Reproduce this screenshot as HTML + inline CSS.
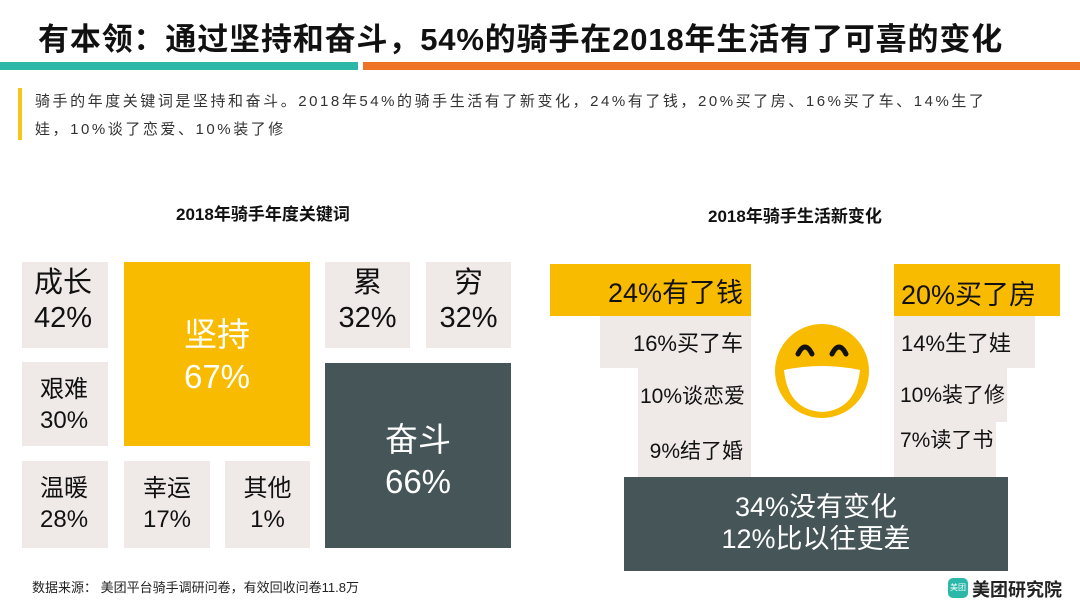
<!DOCTYPE html>
<html><head><meta charset="utf-8"><style>
body{margin:0;width:1080px;height:608px;background:#fff;position:relative;overflow:hidden;font-family:"Liberation Sans","Noto Sans CJK SC",sans-serif;color:#111}
.a{position:absolute}
.b{position:absolute;box-sizing:border-box}
.g{background:#efe9e8}
.k{font-size:29px;line-height:35px;padding:4px 0 0 12px}
.r{font-size:22px;text-align:right;padding-right:8px;display:flex;align-items:center;justify-content:flex-end}
</style></head><body>
<div class="a" style="left:38px;top:14px;font-size:31px;font-weight:bold;letter-spacing:0.85px;white-space:nowrap">有本领：通过坚持和奋斗，54%的骑手在2018年生活有了可喜的变化</div>
<div class="a" style="left:0;top:62px;width:358px;height:8px;background:#2bb8a8"></div>
<div class="a" style="left:363px;top:62px;width:717px;height:8px;background:#ee7326"></div>
<div class="a" style="left:18px;top:88px;width:4px;height:52px;background:#f5c518"></div>
<div class="a" style="left:35px;top:88px;font-size:15px;line-height:28px;color:#333;letter-spacing:2.55px;width:1045px;white-space:nowrap">骑手的年度关键词是坚持和奋斗。2018年54%的骑手生活有了新变化，24%有了钱，20%买了房、16%买了车、14%生了<br>娃，10%谈了恋爱、10%装了修</div>
<div class="a" style="left:176px;top:200px;font-size:17px;font-weight:bold">2018年骑手年度关键词</div>
<div class="a" style="left:708px;top:202px;font-size:17px;font-weight:bold">2018年骑手生活新变化</div>

<div class="b g k" style="left:22px;top:262px;width:86px;height:86px">成长<br>42%</div>
<div class="b" style="left:124px;top:262px;width:186px;height:184px;background:#f8bb00;color:#fff;font-size:33px;line-height:42px;text-align:center;padding-top:52px">坚持<br>67%</div>
<div class="b g" style="left:325px;top:262px;width:85px;height:86px;font-size:29px;line-height:35px;text-align:center;padding-top:4px">累<br>32%</div>
<div class="b g" style="left:426px;top:262px;width:85px;height:86px;font-size:29px;line-height:35px;text-align:center;padding-top:4px">穷<br>32%</div>
<div class="b g" style="left:22px;top:362px;width:86px;height:84px;font-size:24px;line-height:31px;padding:12px 0 0 18px">艰难<br>30%</div>
<div class="b" style="left:325px;top:363px;width:186px;height:185px;background:#465557;color:#fff;font-size:33px;line-height:42px;text-align:center;padding-top:56px">奋斗<br>66%</div>
<div class="b g" style="left:22px;top:461px;width:86px;height:87px;font-size:24px;line-height:31px;padding:12px 0 0 18px">温暖<br>28%</div>
<div class="b g" style="left:124px;top:461px;width:86px;height:87px;font-size:24px;line-height:31px;text-align:center;padding-top:12px">幸运<br>17%</div>
<div class="b g" style="left:225px;top:461px;width:85px;height:87px;font-size:24px;line-height:31px;text-align:center;padding-top:12px">其他<br>1%</div>

<div class="b r" style="left:550px;top:264px;width:201px;height:52px;background:#f8bb00;font-size:27px">24%有了钱</div>
<div class="b g r" style="left:600px;top:316px;width:151px;height:52px">16%买了车</div>
<div class="b g r" style="left:638px;top:368px;width:113px;height:54px;font-size:21px;padding-right:6px">10%谈恋爱</div>
<div class="b g r" style="left:638px;top:422px;width:113px;height:55px;font-size:21px">9%结了婚</div>
<div class="b" style="left:894px;top:264px;width:166px;height:52px;background:#f8bb00;font-size:27px;padding:9px 0 0 7px">20%买了房</div>
<div class="b g" style="left:894px;top:316px;width:141px;height:52px;font-size:22px;padding:10px 0 0 7px">14%生了娃</div>
<div class="b g" style="left:894px;top:368px;width:113px;height:54px;font-size:21px;padding:11px 0 0 6px">10%装了修</div>
<div class="b g" style="left:894px;top:422px;width:102px;height:55px;font-size:21px;padding:2px 0 0 6px">7%读了书</div>
<div class="b" style="left:624px;top:477px;width:384px;height:94px;background:#465557;color:#fff;font-size:27px;line-height:32px;text-align:center;padding-top:14px">34%没有变化<br>12%比以往更差</div>

<svg class="a" style="left:770px;top:320px" width="104" height="104" viewBox="0 0 104 104">
<circle cx="52" cy="51" r="47" fill="#f8bb00"/>
<path d="M14 50 Q52 42 90 50 Q86 90 52 92 Q18 90 14 50Z" fill="#fff"/>
<path d="M28 34 Q35 20 42 34" stroke="#111" stroke-width="5" fill="none" stroke-linecap="round"/>
<path d="M62 34 Q69 20 76 34" stroke="#111" stroke-width="5" fill="none" stroke-linecap="round"/>
</svg>

<div class="a" style="left:32px;top:577px;font-size:13px;color:#222">数据来源： 美团平台骑手调研问卷，有效回收问卷11.8万</div>
<div class="a" style="left:948px;top:578px;width:20px;height:20px;border-radius:5px;background:#2bb8a8;color:#fff;font-size:8px;line-height:20px;text-align:center">美团</div>
<div class="a" style="left:972px;top:576px;font-size:18px;font-weight:bold;color:#222">美团研究院</div>
</body></html>
